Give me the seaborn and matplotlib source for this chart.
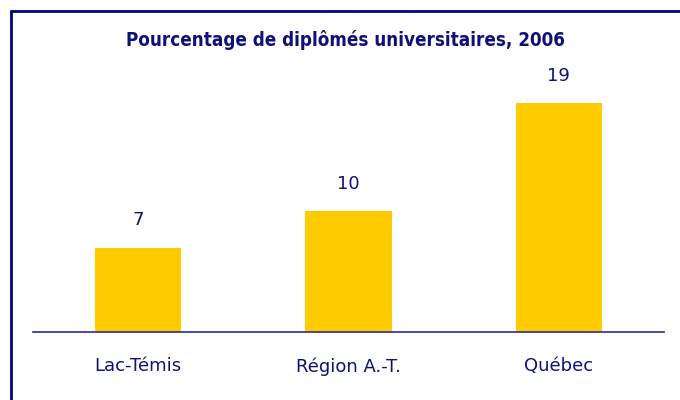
import matplotlib
matplotlib.use("Agg")
import matplotlib.pyplot as plt
import seaborn as sns
import pandas as pd
from matplotlib.lines import Line2D

categories = ["Lac-Témis", "Région A.-T.", "Québec"]
values = [7, 10, 19]
title = "Pourcentage de diplômés universitaires, 2006"

navy = "#10107a"
gold = "#FFCC00"

sns.set_theme(style="white")
plt.rcParams['font.family'] = ['DejaVu Sans']

df = pd.DataFrame({"cat": categories, "val": values})

fig = plt.figure(figsize=(6.8, 4.0), dpi=100)
ax = fig.add_axes([33/680, 1-332/400, (664-33)/680, (332-60)/400])
sns.barplot(data=df, x="cat", y="val", color=gold, width=0.41, saturation=1,
            linewidth=0, ax=ax)
ax.set_xlim(-0.5, 2.5)
ax.set_ylim(0, (332-60)/12.07)
for s in ["top", "right", "left"]:
    ax.spines[s].set_visible(False)
ax.spines["bottom"].set_color("#2a2aa0")
ax.spines["bottom"].set_linewidth(1.2)
ax.set_yticks([])
ax.set_xlabel("")
ax.set_ylabel("")
ax.tick_params(axis="x", length=0, pad=18, labelsize=13, labelcolor=navy)
for c in ax.containers:
    ax.bar_label(c, labels=[str(v) for v in values], padding=13, fontsize=13, color=navy)

fig.text(346/680, 1-40/400, title, ha="center", va="center", fontsize=13.5,
         fontweight="bold", color=navy, family=["DejaVu Sans"], stretch="condensed")

fig.add_artist(Line2D([11/680, 11/680], [0, 1-11/400], transform=fig.transFigure, color="#000080", lw=2))
fig.add_artist(Line2D([11/680, 1], [1-11/400, 1-11/400], transform=fig.transFigure, color="#000080", lw=2))

fig.savefig("out.png", dpi=100)
